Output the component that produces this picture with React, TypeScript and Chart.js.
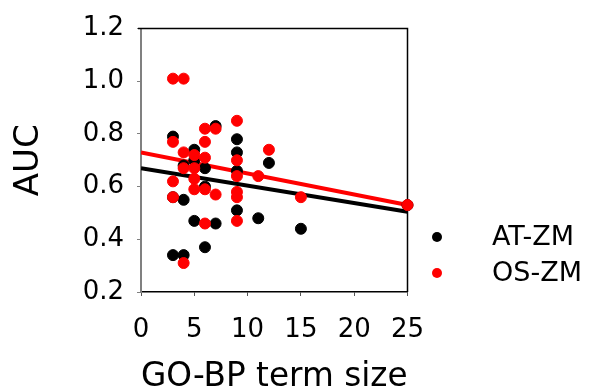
import React, { useEffect, useRef } from "react";
import { Chart, registerables } from "chart.js";

Chart.register(...registerables);

// AT-ZM (black) points: GO-BP term size and AUC
const atX = [3, 3, 3, 4, 4, 4, 5, 5, 5, 6, 6, 6, 7, 7, 9, 9, 9, 9, 11, 12, 15, 25];
const atY = [0.79, 0.56, 0.34, 0.68, 0.55, 0.34, 0.74, 0.70, 0.47, 0.67, 0.60, 0.37, 0.83, 0.46, 0.78, 0.73, 0.66, 0.51, 0.48, 0.69, 0.44, 0.53];

// OS-ZM (red) points
const osX = [3, 4, 9, 6, 7, 3, 6, 4, 5, 6, 12, 9, 4, 5, 9, 11, 3, 5, 5, 6, 7, 9, 9, 3, 6, 9, 4, 15, 25];
const osY = [1.01, 1.01, 0.85, 0.82, 0.82, 0.77, 0.77, 0.73, 0.72, 0.71, 0.74, 0.70, 0.67, 0.67, 0.64, 0.64, 0.62, 0.63, 0.59, 0.59, 0.57, 0.58, 0.56, 0.56, 0.46, 0.47, 0.31, 0.56, 0.53];

// Regression lines (endpoints at x = 0 and x = 25)
const fitX = [0, 25];
const atFitY = [0.67, 0.505];
const osFitY = [0.73, 0.53];

const legendLabels = ["AT-ZM", "OS-ZM"];
const xTitle = "GO-BP term size";
const yTitle = "AUC";

const FONT = "DejaVu Sans";

const toPts = (xs: number[], ys: number[]) => xs.map((x, i) => ({ x, y: ys[i] }));

export default function App() {
  const ref = useRef<HTMLCanvasElement | null>(null);

  useEffect(() => {
    if (!ref.current) return;

    const framePlugin = {
      id: "frameAndLegend",
      beforeDatasetsDraw(chart: any) {
        const { ctx, chartArea } = chart;
        ctx.save();
        ctx.strokeStyle = "#000";
        ctx.lineWidth = 1.5;
        ctx.beginPath();
        ctx.moveTo(chartArea.left - 3, chartArea.top);
        ctx.lineTo(chartArea.right, chartArea.top);
        ctx.lineTo(chartArea.right, chartArea.bottom);
        ctx.stroke();
        ctx.restore();
      },
      afterDraw(chart: any) {
        const { ctx } = chart;
        ctx.save();
        const colors = ["#000000", "#ff0000"];
        const ys = [237, 273];
        ctx.font = `27px ${FONT}`;
        ctx.textBaseline = "middle";
        ctx.textAlign = "left";
        legendLabels.forEach((lab, i) => {
          ctx.fillStyle = colors[i];
          ctx.beginPath();
          ctx.arc(437, ys[i], 5, 0, Math.PI * 2);
          ctx.fill();
          ctx.fillStyle = "#000";
          ctx.fillText(lab, 492, ys[i] + 1);
        });
        ctx.restore();
      },
    };

    const chart = new Chart(ref.current, {
      type: "scatter",
      data: {
        datasets: [
          {
            label: legendLabels[1],
            data: toPts(osX, osY),
            backgroundColor: "#ff0000",
            borderColor: "#ff0000",
            pointRadius: 5.5,
            clip: false,
            order: 0,
          } as any,
          {
            label: legendLabels[0],
            data: toPts(atX, atY),
            backgroundColor: "#000000",
            borderColor: "#000000",
            pointRadius: 5.5,
            clip: false,
            order: 1,
          } as any,
          {
            type: "line",
            label: "OS-ZM fit",
            data: toPts(fitX, osFitY),
            borderColor: "#ff0000",
            borderWidth: 4,
            pointRadius: 0,
            order: 2,
          } as any,
          {
            type: "line",
            label: "AT-ZM fit",
            data: toPts(fitX, atFitY),
            borderColor: "#000000",
            borderWidth: 4,
            pointRadius: 0,
            order: 3,
          } as any,
        ],
      },
      options: {
        responsive: false,
        animation: false,
        devicePixelRatio: 1,
        layout: { padding: { top: 26, right: 192.5, left: 0, bottom: 0 } },
        plugins: { legend: { display: false }, tooltip: { enabled: false } },
        scales: {
          x: {
            type: "linear",
            min: 0,
            max: 25,
            afterFit: (s: any) => {
              s.height = 100;
            },
            ticks: {
              stepSize: 5,
              color: "#000",
              font: { family: FONT, size: 26 },
              padding: 19,
              maxRotation: 0,
            },
            grid: { drawOnChartArea: false, drawTicks: true, tickLength: 4, color: "#555" },
            border: { display: true, color: "#000", width: 1.5 },
            title: {
              display: true,
              text: xTitle,
              color: "#000",
              font: { family: FONT, size: 34, lineHeight: 1.0 },
              padding: { top: 0, bottom: -2 },
            },
          },
          y: {
            type: "linear",
            min: 0.2,
            max: 1.2,
            afterFit: (s: any) => {
              s.width = 141;
            },
            ticks: {
              stepSize: 0.2,
              color: "#000",
              font: { family: FONT, size: 26 },
              padding: 13,
              callback: (v: any) => Number(v).toFixed(1),
            },
            grid: { drawOnChartArea: false, drawTicks: true, tickLength: 4, color: "#808080" },
            border: { display: true, color: "#808080", width: 2 },
            title: {
              display: true,
              text: yTitle,
              color: "#000",
              font: { family: FONT, size: 34, lineHeight: 1.0 },
              padding: { top: 12, bottom: 0 },
            },
          },
        },
      },
      plugins: [framePlugin],
    });

    return () => chart.destroy();
  }, []);

  return (
    <div style={{ position: "fixed", left: 0, top: 0, width: 600, height: 392, background: "#fff" }}>
      <canvas ref={ref} width={600} height={392} />
    </div>
  );
}
